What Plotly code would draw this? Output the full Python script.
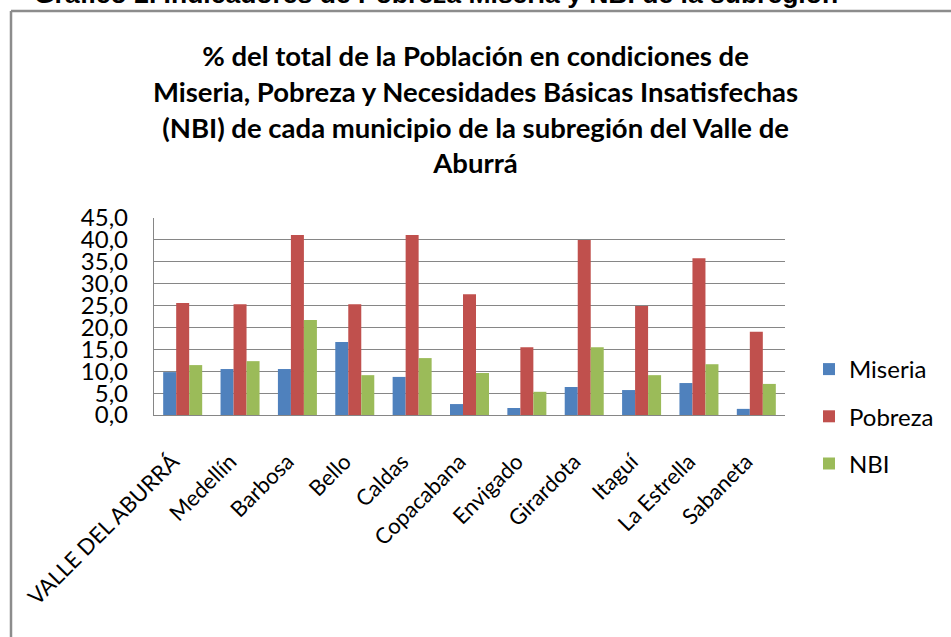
import plotly.graph_objects as go

categories = ["VALLE DEL ABURRÁ", "Medellín", "Barbosa", "Bello", "Caldas", "Copacabana",
              "Envigado", "Girardota", "Itaguí", "La Estrella", "Sabaneta"]
miseria = [9.8, 10.5, 10.5, 16.7, 8.7, 2.5, 1.6, 6.4, 5.7, 7.3, 1.4]
pobreza = [25.6, 25.3, 41.1, 25.3, 41.1, 27.6, 15.5, 40.0, 24.9, 35.8, 19.0]
nbi = [11.4, 12.3, 21.7, 9.1, 13.0, 9.6, 5.3, 15.5, 9.1, 11.6, 7.1]
y_ticks = [0, 5, 10, 15, 20, 25, 30, 35, 40, 45]

W, H = 951, 637
L, R, T, B = 154, 785, 218, 415

def px_x(p):
    return (p - L) / (R - L)

def px_y(p):
    return (B - p) / (B - T)

FONT = "Lato"
fig = go.Figure()
for name, vals, col in [("Miseria", miseria, "#4F81BD"),
                        ("Pobreza", pobreza, "#C0504D"),
                        ("NBI", nbi, "#9BBB59")]:
    fig.add_trace(go.Bar(name=name, x=categories, y=vals, marker_color=col,
                         marker_line_width=0, legendgroup=name))

fig.update_layout(
    width=W, height=H,
    margin=dict(l=L, r=W - R, t=T, b=H - B, autoexpand=False),
    paper_bgcolor="white", plot_bgcolor="white",
    barmode="group", bargap=0.32, bargroupgap=0,
    separators=",.",
    font=dict(family=FONT, size=24, color="black"),
    showlegend=True,
    legend=dict(x=px_x(809), y=px_y(347), xanchor="left", yanchor="top",
                font=dict(family=FONT, size=24), tracegroupgap=13,
                bgcolor="rgba(0,0,0,0)"),
    xaxis=dict(tickangle=-45, showgrid=False, showline=True, linecolor="#868686",
               linewidth=1.3, tickfont=dict(family=FONT, size=22), ticks="",
               ticklabelstandoff=24, ticklabelshift=-10, automargin=False),
    yaxis=dict(range=[0, 45], tickvals=y_ticks, tickformat=".1f", showgrid=True,
               gridcolor="#868686", gridwidth=1.3, showline=True, linecolor="#868686",
               linewidth=1.3, ticks="", ticklabelstandoff=20, automargin=False,
               tickfont=dict(family=FONT, size=24), zeroline=False),
)

# chart frame
fig.add_shape(type="line", xref="paper", yref="paper",
              x0=px_x(11), x1=px_x(11), y0=px_y(11), y1=px_y(700),
              line=dict(color="#8C8C8C", width=2.5))
fig.add_shape(type="line", xref="paper", yref="paper",
              x0=px_x(11), x1=px_x(1000), y0=px_y(11), y1=px_y(11),
              line=dict(color="#8C8C8C", width=2.5))

# header caption (cut at top)
fig.add_annotation(text="<b>Gráfico 2. Indicadores de Pobreza Miseria y NBI de la subregión</b>",
                   xref="paper", yref="paper", x=px_x(32), y=px_y(-6),
                   xanchor="left", yanchor="middle", showarrow=False,
                   font=dict(family="Liberation Sans", size=26.5, color="black"))

# chart title
fig.add_annotation(text="<b>% del total de la Población en condiciones de<br>"
                        "Miseria, Pobreza y Necesidades Básicas Insatisfechas<br>"
                        "(NBI) de cada municipio de la subregión del Valle de<br>"
                        "Aburrá</b>",
                   xref="paper", yref="paper", x=px_x(475), y=px_y(37),
                   xanchor="center", yanchor="top", showarrow=False, align="center",
                   font=dict(family=FONT, size=27.5, color="black"))

fig.write_html("out.html", config={"displayModeBar": False},
               post_script="document.body.style.margin='0';")
